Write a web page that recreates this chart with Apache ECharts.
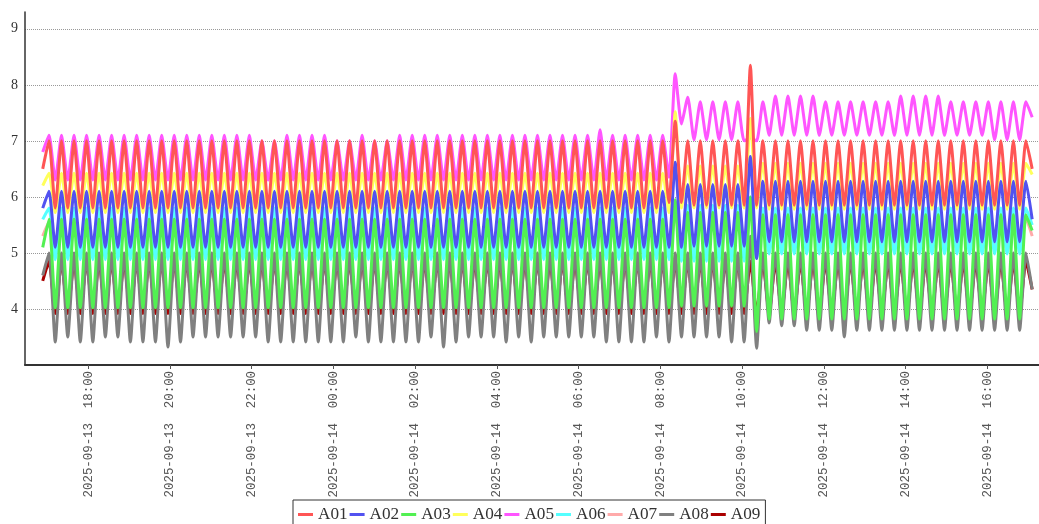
<!DOCTYPE html>
<html>
<head>
<meta charset="utf-8">
<script src="https://cdn.jsdelivr.net/npm/echarts@6/dist/echarts.min.js"></script>
<style>
html,body{margin:0;padding:0;background:#fff;}
#c{width:1039px;height:524px;}
</style>
</head>
<body>
<div id="c"></div>
<script>
// ---- data ----
const seriesNames = ['A01','A02','A03','A04','A05','A06','A07','A08','A09'];
const seriesColors = ['#ff5555','#5252f0','#52f052','#ffff5a','#ff55ff','#55ffff','#ffaaaa','#808080','#aa0000'];

// regular sampling: first sample time and step between samples
const sampleStart = '2025-09-13 16:53:06';
const sampleStepMs = 551730;

const axisStart = '2025-09-13 16:27:04';
const axisEnd = '2025-09-14 17:16:00';
const xTickLabels = ['2025-09-13 18:00','2025-09-13 20:00','2025-09-13 22:00','2025-09-14 00:00',
  '2025-09-14 02:00','2025-09-14 04:00','2025-09-14 06:00','2025-09-14 08:00',
  '2025-09-14 10:00','2025-09-14 12:00','2025-09-14 14:00','2025-09-14 16:00'];
const yTickValues = [4,5,6,7,8,9];

const A01 = [
6.5,7.0,5.8,7.0,5.8,7.0,5.8,7.0,5.8,7.0,
5.8,7.0,5.8,7.0,5.8,7.0,5.8,7.0,5.8,7.0,
5.8,7.0,5.8,7.0,5.8,7.0,5.8,7.0,5.8,7.0,
5.8,7.0,5.8,7.0,5.8,7.0,5.8,7.0,5.8,7.0,
5.8,7.0,5.8,7.0,5.8,7.0,5.8,7.0,5.8,7.0,
5.8,7.0,5.8,7.0,5.8,7.0,5.8,7.0,5.8,7.0,
5.8,7.0,5.8,7.0,5.8,7.0,5.8,7.0,5.8,7.0,
5.8,7.0,5.8,7.0,5.8,7.0,5.8,7.0,5.8,7.0,
5.8,7.0,5.8,7.0,5.8,7.0,5.8,7.0,5.8,7.0,
5.8,7.0,5.8,7.0,5.8,7.0,5.8,7.0,5.8,7.0,
5.9,7.35,5.9,7.0,5.85,7.0,5.85,7.0,5.85,7.0,
5.85,7.0,5.85,8.35,5.85,7.0,5.85,7.0,5.85,7.0,
5.85,7.0,5.85,7.0,5.85,7.0,5.85,7.0,5.85,7.0,
5.85,7.0,5.85,7.0,5.85,7.0,5.85,7.0,5.85,7.0,
5.85,7.0,5.85,7.0,5.85,7.0,5.85,7.0,5.85,7.0,
5.85,7.0,5.85,7.0,5.85,7.0,5.85,7.0,6.5];

const A02 = [
5.8,6.1,5.1,6.1,5.1,6.1,5.1,6.1,5.1,6.1,
5.1,6.1,5.1,6.1,5.1,6.1,5.1,6.1,5.1,6.1,
5.1,6.1,5.1,6.1,5.1,6.1,5.1,6.1,5.1,6.1,
5.1,6.1,5.1,6.1,5.1,6.1,5.1,6.1,5.1,6.1,
5.1,6.1,5.1,6.1,5.1,6.1,5.1,6.1,5.1,6.1,
5.1,6.1,5.1,6.1,5.1,6.1,5.1,6.1,5.1,6.1,
5.1,6.1,5.1,6.1,5.1,6.1,5.1,6.1,5.1,6.1,
5.1,6.1,5.1,6.1,5.1,6.1,5.1,6.1,5.1,6.1,
5.1,6.1,5.1,6.1,5.1,6.1,5.1,6.1,5.1,6.1,
5.1,6.1,5.1,6.1,5.1,6.1,5.1,6.1,5.1,6.1,
5.1,6.62,5.1,6.22,5.12,6.22,5.12,6.22,5.12,6.22,
5.12,6.22,5.12,6.72,4.9,6.28,5.2,6.28,5.2,6.28,
5.2,6.28,5.2,6.28,5.2,6.28,5.2,6.28,5.2,6.28,
5.2,6.28,5.2,6.28,5.2,6.28,5.2,6.28,5.2,6.28,
5.2,6.28,5.2,6.28,5.2,6.28,5.2,6.28,5.2,6.28,
5.2,6.28,5.2,6.28,5.2,6.28,5.2,6.28,5.6];

const A03 = [
5.1,5.6,4.02,5.6,4.02,5.6,4.02,5.6,4.02,5.6,
4.02,5.6,4.02,5.6,4.02,5.6,4.02,5.6,4.02,5.6,
4.02,5.6,4.02,5.6,4.02,5.6,4.02,5.6,4.02,5.6,
4.02,5.6,4.02,5.6,4.02,5.6,4.02,5.6,4.02,5.6,
4.02,5.6,4.02,5.6,4.02,5.6,4.02,5.6,4.02,5.6,
4.02,5.6,4.02,5.6,4.02,5.6,4.02,5.6,4.02,5.6,
4.02,5.6,4.02,5.6,4.02,5.6,4.02,5.6,4.02,5.6,
4.02,5.6,4.02,5.6,4.02,5.6,4.02,5.6,4.02,5.6,
4.02,5.6,4.02,5.6,4.02,5.6,4.02,5.6,4.02,5.6,
4.02,5.6,4.02,5.6,4.02,5.6,4.02,5.6,4.02,5.6,
4.02,5.95,4.05,5.72,4.05,5.72,4.05,5.72,4.05,5.72,
4.05,5.72,4.05,6.0,3.6,5.68,3.82,5.68,3.82,5.68,
3.82,5.68,3.82,5.68,3.82,5.68,3.82,5.68,3.82,5.68,
3.82,5.68,3.82,5.68,3.82,5.68,3.82,5.68,3.82,5.68,
3.82,5.68,3.82,5.68,3.82,5.68,3.82,5.68,3.82,5.68,
3.82,5.68,3.82,5.68,3.82,5.68,3.82,5.68,5.4];

const A04 = [
6.2,6.42,5.72,6.42,5.72,6.42,5.72,6.42,5.72,6.42,
5.72,6.42,5.72,6.42,5.72,6.42,5.72,6.42,5.72,6.42,
5.72,6.42,5.72,6.42,5.72,6.42,5.72,6.42,5.72,6.42,
5.72,6.42,5.72,6.42,5.72,6.42,5.72,6.42,5.72,6.42,
5.72,6.42,5.72,6.42,5.72,6.42,5.72,6.42,5.72,6.42,
5.72,6.42,5.72,6.42,5.72,6.42,5.72,6.42,5.72,6.42,
5.72,6.42,5.72,6.42,5.72,6.42,5.72,6.42,5.72,6.42,
5.72,6.42,5.72,6.42,5.72,6.42,5.72,6.42,5.72,6.42,
5.72,6.42,5.72,6.42,5.72,6.42,5.72,6.42,5.72,6.42,
5.72,6.42,5.72,6.42,5.72,6.42,5.72,6.42,5.72,6.42,
5.72,7.52,5.8,6.55,5.8,6.55,5.8,6.55,5.8,6.55,
5.8,6.55,5.8,7.4,5.8,6.6,5.78,6.6,5.78,6.6,
5.78,6.6,5.78,6.6,5.78,6.6,5.78,6.6,5.78,6.6,
5.78,6.6,5.78,6.6,5.78,6.6,5.78,6.6,5.78,6.6,
5.78,6.6,5.78,6.6,5.78,6.6,5.78,6.6,5.78,6.6,
5.78,6.6,5.78,6.6,5.78,6.6,5.78,6.6,6.4];

const A05 = [
6.8,7.1,6.3,7.1,6.3,7.1,6.3,7.1,6.3,7.1,
6.3,7.1,6.3,7.1,6.3,7.1,6.3,7.1,6.3,7.1,
6.3,7.1,6.3,7.1,6.3,7.1,6.3,7.1,6.3,7.1,
6.3,7.1,6.3,7.1,6.3,7.0,6.3,7.0,6.3,7.1,
6.3,7.1,6.3,7.1,6.3,7.1,6.3,7.0,6.3,7.0,
6.3,7.1,6.3,7.0,6.3,7.0,6.3,7.1,6.3,7.1,
6.3,7.1,6.3,7.1,6.3,7.1,6.3,7.1,6.3,7.1,
6.3,7.1,6.3,7.1,6.3,7.1,6.3,7.1,6.3,7.1,
6.3,7.1,6.3,7.1,6.3,7.1,6.3,7.1,6.3,7.2,
6.3,7.1,6.3,7.1,6.3,7.1,6.3,7.1,6.3,7.1,
6.35,8.2,7.3,7.78,7.02,7.7,7.02,7.7,7.02,7.7,
7.02,7.7,7.0,7.05,7.0,7.7,7.1,7.8,7.1,7.8,
7.1,7.8,7.1,7.8,7.1,7.7,7.1,7.7,7.1,7.7,
7.1,7.7,7.1,7.7,7.1,7.7,7.1,7.8,7.1,7.8,
7.1,7.8,7.1,7.8,7.1,7.7,7.1,7.7,7.1,7.7,
7.1,7.7,7.02,7.7,7.02,7.7,7.02,7.7,7.42];

const A06 = [
5.6,5.8,4.88,5.8,4.88,5.8,4.88,5.8,4.88,5.8,
4.88,5.8,4.88,5.8,4.88,5.8,4.88,5.8,4.88,5.8,
4.88,5.8,4.88,5.8,4.88,5.8,4.88,5.8,4.88,5.8,
4.88,5.8,4.88,5.8,4.88,5.8,4.88,5.8,4.88,5.8,
4.88,5.8,4.88,5.8,4.88,5.8,4.88,5.8,4.88,5.8,
4.88,5.8,4.88,5.8,4.88,5.8,4.88,5.8,4.88,5.8,
4.88,5.8,4.88,5.8,4.88,5.8,4.88,5.8,4.88,5.8,
4.88,5.8,4.88,5.8,4.88,5.8,4.88,5.8,4.88,5.8,
4.88,5.8,4.88,5.8,4.88,5.8,4.88,5.8,4.88,5.8,
4.88,5.8,4.88,5.8,4.88,5.8,4.88,5.8,4.88,5.8,
4.88,5.9,4.85,5.85,4.85,5.85,4.85,5.85,4.85,5.85,
4.85,5.85,4.85,6.0,4.9,5.8,4.98,5.8,4.98,5.8,
4.98,5.8,4.98,5.8,4.98,5.8,4.98,5.8,4.98,5.8,
4.98,5.8,4.98,5.8,4.98,5.8,4.98,5.8,4.98,5.8,
4.98,5.8,4.98,5.8,4.98,5.8,4.98,5.8,4.98,5.8,
4.98,5.8,4.98,5.8,4.98,5.8,4.98,5.8,5.5];

const A07 = [
5.3,5.55,4.95,5.55,4.95,5.55,4.95,5.55,4.95,5.55,
4.95,5.55,4.95,5.55,4.95,5.55,4.95,5.55,4.95,5.55,
4.95,5.55,4.95,5.55,4.95,5.55,4.95,5.55,4.95,5.55,
4.95,5.55,4.95,5.55,4.95,5.55,4.95,5.55,4.95,5.55,
4.95,5.55,4.95,5.55,4.95,5.55,4.95,5.55,4.95,5.55,
4.95,5.55,4.95,5.55,4.95,5.55,4.95,5.55,4.95,5.55,
4.95,5.55,4.95,5.55,4.95,5.55,4.95,5.55,4.95,5.55,
4.95,5.55,4.95,5.55,4.95,5.55,4.95,5.55,4.95,5.55,
4.95,5.55,4.95,5.55,4.95,5.55,4.95,5.55,4.95,5.55,
4.95,5.55,4.95,5.55,4.95,5.55,4.95,5.55,4.95,5.55,
4.95,5.7,4.95,5.6,4.98,5.6,4.98,5.6,4.98,5.6,
4.98,5.6,4.98,5.8,5.0,5.62,5.05,5.62,5.05,5.62,
5.05,5.62,5.05,5.62,5.05,5.62,5.05,5.62,5.05,5.62,
5.05,5.62,5.05,5.62,5.05,5.62,5.05,5.62,5.05,5.62,
5.05,5.62,5.05,5.62,5.05,5.62,5.05,5.62,5.05,5.62,
5.05,5.62,5.05,5.62,5.05,5.62,5.05,5.62,5.3];

const A08 = [
4.6,5.0,3.41,5.0,3.5,5.0,3.41,5.0,3.41,5.0,
3.5,5.0,3.5,5.0,3.41,5.0,3.41,5.0,3.41,5.0,
3.32,5.0,3.41,5.0,3.5,5.0,3.5,5.0,3.5,5.0,
3.5,5.0,3.5,5.0,3.5,5.0,3.41,5.0,3.41,5.0,
3.41,5.0,3.41,5.0,3.41,5.0,3.41,5.0,3.41,5.0,
3.5,5.0,3.41,5.0,3.41,5.0,3.41,5.0,3.41,5.0,
3.41,5.0,3.5,5.0,3.32,5.0,3.41,5.0,3.5,5.0,
3.5,5.0,3.5,5.0,3.41,5.0,3.5,5.0,3.41,5.0,
3.5,5.0,3.5,5.0,3.5,5.0,3.5,5.0,3.5,5.0,
3.41,5.0,3.41,5.0,3.41,5.0,3.41,5.0,3.5,5.0,
3.41,5.0,3.5,5.0,3.5,5.0,3.5,5.0,3.5,5.0,
3.41,5.0,3.41,5.3,3.3,5.0,3.75,5.0,3.7,5.0,
3.7,5.0,3.62,5.0,3.62,5.0,3.62,5.0,3.5,5.0,
3.62,5.0,3.62,5.0,3.62,5.0,3.62,5.0,3.62,5.0,
3.62,5.0,3.62,5.0,3.62,5.0,3.62,5.0,3.62,5.0,
3.62,5.0,3.62,5.0,3.62,5.0,3.62,5.0,4.35];

const A09 = [
4.5,4.85,3.92,4.85,3.92,4.85,3.92,4.85,3.92,4.85,
3.92,4.85,3.92,4.85,3.92,4.85,3.92,4.85,3.92,4.85,
3.92,4.85,3.92,4.85,3.92,4.85,3.92,4.85,3.92,4.85,
3.92,4.85,3.92,4.85,3.92,4.85,3.92,4.85,3.92,4.85,
3.92,4.85,3.92,4.85,3.92,4.85,3.92,4.85,3.92,4.85,
3.92,4.85,3.92,4.85,3.92,4.85,3.92,4.85,3.92,4.85,
3.92,4.85,3.92,4.85,3.92,4.85,3.92,4.85,3.92,4.85,
3.92,4.85,3.92,4.85,3.92,4.85,3.92,4.85,3.92,4.85,
3.92,4.85,3.92,4.85,3.92,4.85,3.92,4.85,3.92,4.85,
3.92,4.85,3.92,4.85,3.92,4.85,3.92,4.85,3.92,4.85,
3.92,4.85,3.92,4.85,3.92,4.85,3.92,4.85,3.92,4.85,
3.92,4.85,3.92,4.85,3.92,4.85,3.92,4.85,3.92,4.85,
3.92,4.85,3.92,4.85,3.92,4.85,3.92,4.85,3.92,4.85,
3.92,4.85,3.92,4.85,3.92,4.85,3.92,4.85,3.92,4.85,
3.92,4.85,3.92,4.85,3.92,4.85,3.92,4.85,3.92,4.85,
3.92,4.85,3.92,4.85,3.92,4.85,3.92,4.85,4.35];

// ---- chart ----
const seriesValues = [A01, A02, A03, A04, A05, A06, A07, A08, A09];
const parseTime = s => new Date(s.replace(' ', 'T')).getTime();
const pad = n => String(n).padStart(2, '0');
const fmtTime = v => {
  const d = new Date(v);
  return d.getFullYear() + '-' + pad(d.getMonth() + 1) + '-' + pad(d.getDate()) +
    '  ' + pad(d.getHours()) + ':' + pad(d.getMinutes());
};
const t0 = parseTime(sampleStart);
const times = A01.map((_, i) => t0 + i * sampleStepMs);
const xTicks = xTickLabels.map(parseTime);

const series = seriesNames.map((name, k) => ({
  name: name,
  type: 'line',
  data: seriesValues[k].map((v, i) => [times[i], v]),
  symbol: 'none',
  showSymbol: false,
  smooth: 0.18,
  z: 20 - k,
  lineStyle: { color: seriesColors[k], width: 3, join: 'bevel' },
  itemStyle: { color: seriesColors[k] },
  emphasis: { disabled: true },
  silent: true
}));

const chart = echarts.init(document.getElementById('c'));
chart.setOption({
  animation: false,
  backgroundColor: '#fff',
  grid: { left: 25, right: 0, top: 12, bottom: 159 },
  xAxis: {
    type: 'value',
    min: parseTime(axisStart),
    max: parseTime(axisEnd),
    axisLine: { show: true, onZero: false, lineStyle: { color: '#333', width: 2 } },
    axisTick: { show: true, customValues: xTicks, length: 4, lineStyle: { color: '#555' } },
    axisLabel: {
      customValues: xTicks, rotate: 90, formatter: v => fmtTime(v),
      fontFamily: 'Liberation Mono', fontSize: 12.4, color: '#555', margin: 6
    },
    splitLine: { show: false }
  },
  yAxis: {
    type: 'value', min: 3, max: 9.3, interval: 1,
    axisLine: { show: true, lineStyle: { color: '#333', width: 1.5 } },
    axisTick: { show: false, customValues: yTickValues },
    axisLabel: { customValues: yTickValues, fontFamily: 'Liberation Serif', fontSize: 14, color: '#333', margin: 7 },
    splitLine: { show: true, customValues: yTickValues, lineStyle: { color: '#999', type: 'dotted', width: 1 } }
  },
  legend: {
    data: seriesNames,
    left: 293, top: 500,
    icon: 'rect', itemWidth: 15, itemHeight: 3, itemGap: 2,
    padding: [6, 5, 10, 5],
    borderColor: '#333', borderWidth: 1, backgroundColor: '#fff',
    textStyle: { fontFamily: 'Liberation Serif', fontSize: 17.2, color: '#333' }
  },
  series: series
});
</script>
</body>
</html>
